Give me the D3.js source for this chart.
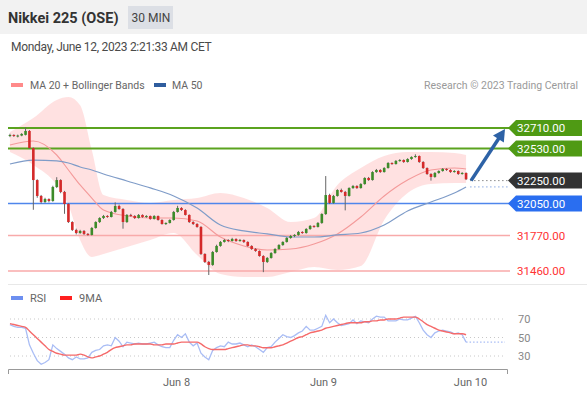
<!DOCTYPE html>
<html><head><meta charset="utf-8">
<script src="https://cdn.jsdelivr.net/npm/d3@7"></script>
<style>body{margin:0;background:#fff;} svg{display:block;font-family:Roboto,"Liberation Sans",Arial,sans-serif;}</style>
</head><body><svg id="c" width="587" height="397"></svg>
<script>
// ---------- DATA ----------
const title = "Nikkei 225 (OSE)";
const interval = "30 MIN";
const dateText = "Monday, June 12, 2023 2:21:33 AM CET";
const credit = "Research \u00a9 2023 Trading Central";

// [open, high, low, close] per 30-min candle
const candles = [
[32640,32660,32630,32649],[32649,32655,32632,32640],[32640,32652,32628,32644],[32644,32665,32638,32658],
[32650,32715,32645,32684],[32684,32692,32528,32535],[32535,32540,31995,32255],[32255,32262,32100,32116],
[32116,32125,32050,32063],[32063,32100,32055,32089],[32089,32095,32060,32072],[32072,32205,32065,32194],
[32194,32280,32185,32255],[32255,32262,32140,32151],[32151,32160,31960,32046],[32046,32052,31880,31888],
[31888,31895,31810,31819],[31819,31830,31780,31792],[31792,31820,31785,31810],[31810,31818,31775,31784],
[31784,31792,31768,31775],[31775,31845,31770,31836],[31836,31895,31830,31888],[31888,31930,31880,31923],
[31923,31950,31915,31941],[31941,31948,31925,31932],[31932,31985,31928,31976],[31976,32060,31970,32028],
[32028,32040,31995,32002],[32002,32010,31830,31888],[31888,31958,31880,31950],[31950,31960,31935,31941],
[31941,31948,31915,31923],[31923,31958,31918,31950],[31950,31955,31925,31932],[31932,31948,31925,31941],
[31941,31945,31908,31915],[31915,31948,31910,31941],[31941,31945,31900,31906],[31906,31912,31865,31871],
[31871,31885,31862,31880],[31880,31912,31875,31906],[31906,31985,31900,31976],[31976,32030,31970,32011],
[32011,32018,31985,31993],[31993,32000,31945,31950],[31950,31955,31880,31888],[31888,31895,31862,31871],
[31871,31878,31838,31845],[31845,31852,31600,31609],[31609,31615,31530,31539],[31539,31548,31425,31513],
[31513,31635,31505,31626],[31626,31690,31620,31679],[31679,31722,31672,31714],[31714,31740,31708,31731],
[31731,31738,31712,31722],[31722,31750,31718,31740],[31740,31746,31715,31722],[31722,31740,31716,31731],
[31731,31736,31705,31714],[31714,31720,31672,31679],[31679,31685,31645,31652],[31652,31660,31628,31635],
[31635,31640,31585,31591],[31591,31598,31450,31539],[31539,31582,31530,31574],[31574,31625,31568,31617],
[31617,31660,31610,31652],[31652,31695,31646,31687],[31687,31720,31680,31714],[31714,31756,31708,31749],
[31749,31775,31742,31766],[31766,31782,31756,31775],[31775,31810,31768,31801],[31801,31808,31785,31792],
[31792,31835,31786,31827],[31827,31862,31820,31854],[31854,31860,31838,31845],[31845,31888,31840,31880],
[31880,31965,31872,31958],[31958,32290,31950,32124],[32124,32135,32045,32055],[32055,32125,32048,32116],
[32116,32175,32110,32168],[32168,32180,32145,32151],[32151,32160,31990,32116],[32116,32192,32110,32185],
[32185,32212,32178,32203],[32203,32210,32178,32185],[32185,32228,32180,32220],[32220,32280,32214,32273],
[32273,32282,32248,32255],[32255,32332,32250,32325],[32325,32352,32318,32343],[32343,32350,32318,32325],
[32325,32368,32320,32360],[32360,32412,32355,32404],[32404,32410,32388,32395],[32395,32430,32390,32422],
[32422,32438,32415,32430],[32430,32436,32405,32413],[32413,32446,32408,32439],[32439,32462,32432,32457],
[32457,32480,32450,32465],[32465,32470,32405,32413],[32413,32420,32352,32360],[32360,32366,32300,32308],
[32308,32315,32250,32282],[32282,32325,32275,32317],[32317,32340,32310,32334],[32334,32360,32328,32352],
[32352,32358,32335,32343],[32343,32350,32318,32325],[32325,32342,32320,32334],[32334,32340,32300,32308],
[32308,32324,32302,32317],[32317,32322,32255,32262]
];

// moving averages / Bollinger bands read at these candle indexes
const bandIdx = [0,6,12,15,18,21,24,30,36,42,48,54,60,66,72,78,84,90,96,102,108,114,117];
const ma20    = [32561,32596,32474,32343,32212,32098,31993,31941,31923,31923,31897,31757,31679,31644,31652,31696,31784,31932,32116,32255,32343,32360,32352];
const ma50    = [32395,32430,32422,32404,32369,32343,32308,32247,32186,32116,32011,31862,31810,31784,31757,31757,31775,31792,31862,31985,32063,32142,32195];
const bbUpper = [32675,32797,32955,32981,32909,32518,32124,32081,32055,32081,32098,32142,32098,32011,31888,31923,32212,32360,32465,32500,32500,32492,32474];
const bbLower = [32500,32387,32212,32037,31731,31583,31609,31670,31731,31792,31600,31434,31408,31408,31451,31495,31469,31504,31906,32142,32221,32229,32229];

// RSI and its 9-period MA, one value per candle
const rsi = [64,62,61,61,60,42,33,25,21,23,26,42,38,35,32,28,26,29,27,27,28,34,36,37,41,42,41,50,46,40,
45,44,43,44,43,43,44,45,42,40,39,39,47,53,50,54,45,41,44,33,29,26,36,39,41,40,45,43,43,44,
42,40,42,40,37,34,39,40,45,49,53,51,50,52,55,57,62,58,58,60,62,74,66,70,66,63,64,65,69,65,
68,67,66,70,73,72,72,68,68,68,70,69,69,71,73,66,58,53,50,55,57,58,57,56,54,55,53,45];
const rsiMA = [65,64,63,62,61,57,53,49,45,41,37,35,33,32,31,31,31,31,32,31,29,28,29,30,32,34,37,39,40,41,
42,42,43,43,43,43,43,42,42,42,43,43,43,44,45,45,45,45,45,43,40,38,37,37,37,37,38,39,40,41,
42,42,41,41,40,39,39,39,40,41,42,44,46,48,50,51,53,55,56,57,58,60,61,62,63,64,65,66,66,66,
66,67,67,68,68,69,69,70,70,70,71,72,72,72,72,70,67,64,62,60,58,57,56,55,54,54,54,53];

const levels     = [32710, 32530, 32050, 31770, 31460];
const levelKinds = ["resistance","resistance","pivot","support","support"];
const lastPrice  = 32250;
const targetPrice = 32710;
const rsiTicks   = [70, 50, 30];
const dayTickPos = [42.6, 80.3, 118];   // candle-index position of day starts
const dayLabels  = ["Jun 8", "Jun 9", "Jun 10"];

// ---------- DRAW ----------
const svg = d3.select("#c");
const x = d3.scaleLinear().domain([-0.5, 127.5]).range([8, 507]);
const y = d3.scaleLinear().domain([31460, 32710]).range([271, 128]);
const yr = d3.scaleLinear().domain([30, 70]).range([356, 319]);

// header
svg.append("rect").attr("x",0).attr("y",0).attr("width",587).attr("height",34).attr("fill","#f2f2f2");
svg.append("text").attr("x",8).attr("y",23).attr("font-size",14.5).attr("font-weight","bold").attr("fill","#333").text(title);
svg.append("rect").attr("x",128).attr("y",6).attr("width",45).attr("height",23).attr("fill","#dcdfe5");
svg.append("text").attr("x",151).attr("y",22).attr("text-anchor","middle").attr("font-size",12).attr("fill","#444").text(interval);
svg.append("text").attr("x",11).attr("y",51).attr("font-size",12).attr("letter-spacing",-0.3).attr("fill","#4a4a4a").text(dateText);

// legend
svg.append("rect").attr("x",11).attr("y",83).attr("width",12).attr("height",4).attr("fill","#ff8a8a");
svg.append("text").attr("x",30).attr("y",89).attr("font-size",10.5).attr("fill","#666").text("MA 20 + Bollinger Bands");
svg.append("rect").attr("x",154).attr("y",83).attr("width",12).attr("height",4).attr("fill","#2f5d9e");
svg.append("text").attr("x",172).attr("y",89).attr("font-size",10.5).attr("fill","#666").text("MA 50");
svg.append("text").attr("x",578).attr("y",89).attr("text-anchor","end").attr("font-size",10.5).attr("fill","#9a9a9a").text(credit);

// Bollinger band
const bandData = bandIdx.map((d,i)=>({i:d, u:bbUpper[i], l:bbLower[i], m20:ma20[i], m50:ma50[i]}));
svg.append("path").datum(bandData)
  .attr("d", d3.area().x(d=>x(d.i)).y0(d=>y(d.l)).y1(d=>y(d.u)).curve(d3.curveMonotoneX))
  .attr("fill","#ffdcdc").attr("opacity",0.85);

// level lines
const levelColor = {resistance:"#5ba31f", pivot:"#4f86ec", support:"#f8aaaa"};
const levelWidth = {resistance:2, pivot:1.5, support:1.5};
levels.forEach((v,i)=>{
  const k = levelKinds[i];
  svg.append("line").attr("x1",8).attr("x2",510).attr("y1",y(v)).attr("y2",y(v))
    .attr("stroke",levelColor[k]).attr("stroke-width",levelWidth[k]);
});

// MAs
svg.append("path").datum(bandData)
  .attr("d", d3.line().x(d=>x(d.i)).y(d=>y(d.m20)).curve(d3.curveMonotoneX))
  .attr("fill","none").attr("stroke","#f49a9a").attr("stroke-width",1.1);
svg.append("path").datum(bandData)
  .attr("d", d3.line().x(d=>x(d.i)).y(d=>y(d.m50)).curve(d3.curveMonotoneX))
  .attr("fill","none").attr("stroke","#7f9cc8").attr("stroke-width",1.2);

// candles
const cg = svg.append("g");
candles.forEach((c,i)=>{
  const [o,h,l,cl] = c;
  const up = cl >= o;
  const col = up ? "#3d8b2a" : "#d42a2a";
  cg.append("line").attr("x1",x(i)).attr("x2",x(i)).attr("y1",y(h)).attr("y2",y(l))
    .attr("stroke","#666").attr("stroke-width",1);
  const top = y(Math.max(o,cl)), bot = y(Math.min(o,cl));
  cg.append("rect").attr("x",x(i)-1.3).attr("width",2.6)
    .attr("y",top).attr("height",Math.max(1,bot-top)).attr("fill",col);
});

// dotted current price & MA50 extension
const lastI = candles.length - 1;
svg.append("line").attr("x1",x(lastI)+4).attr("x2",510).attr("y1",y(lastPrice)).attr("y2",y(lastPrice))
  .attr("stroke","#888").attr("stroke-width",1).attr("stroke-dasharray","1.5,2.5");
svg.append("line").attr("x1",x(lastI)+4).attr("x2",510).attr("y1",y(ma50[ma50.length-1])).attr("y2",y(ma50[ma50.length-1]))
  .attr("stroke","#8aa8e0").attr("stroke-width",1).attr("stroke-dasharray","1.5,2.5");

// target arrow
const ax0 = x(lastI)+5, ay0 = y(lastPrice), ax1 = 505, ay1 = y(targetPrice)+1;
const ang = Math.atan2(ay1-ay0, ax1-ax0);
const shaft = 9;
svg.append("line").attr("x1",ax0).attr("y1",ay0)
  .attr("x2",ax1 - shaft*Math.cos(ang)).attr("y2",ay1 - shaft*Math.sin(ang))
  .attr("stroke","#2d62a6").attr("stroke-width",3.5);
const hw = 6.5;
const bx = ax1 - 12*Math.cos(ang), by = ay1 - 12*Math.sin(ang);
svg.append("polygon").attr("points",[
  [ax1,ay1],[bx + hw*Math.sin(ang), by - hw*Math.cos(ang)],[bx - hw*Math.sin(ang), by + hw*Math.cos(ang)]
].map(p=>p.join(",")).join(" ")).attr("fill","#2d62a6");

// right labels
const boxColor = {resistance:"#4f9a14", pivot:"#2a6ef0", current:"#333333"};
function tagLabel(v, kind){
  const yy = y(v);
  const pts = [[508,yy],[516,yy-8],[582,yy-8],[582,yy+8],[516,yy+8]];
  svg.append("polygon").attr("points", pts.map(p=>p.join(",")).join(" ")).attr("fill", boxColor[kind]);
  svg.append("text").attr("x",517).attr("y",yy+4).attr("font-size",11.5).attr("fill","#fff").text(d3.format(".2f")(v));
}
levels.forEach((v,i)=>{
  const k = levelKinds[i];
  if (k === "support") {
    svg.append("text").attr("x",517).attr("y",y(v)+4).attr("font-size",11.5).attr("fill","#ff3333").text(d3.format(".2f")(v));
  } else tagLabel(v,k);
});
tagLabel(lastPrice, "current");

// separator
svg.append("line").attr("x1",8).attr("x2",587).attr("y1",284.5).attr("y2",284.5).attr("stroke","#e8e8e8");

// RSI legend
svg.append("rect").attr("x",11).attr("y",296).attr("width",12).attr("height",4).attr("fill","#6d8ff0");
svg.append("text").attr("x",30).attr("y",302).attr("font-size",11).attr("fill","#666").text("RSI");
svg.append("rect").attr("x",60).attr("y",296).attr("width",12).attr("height",4).attr("fill","#ff2020");
svg.append("text").attr("x",79).attr("y",302).attr("font-size",11).attr("fill","#666").text("9MA");

// RSI grid
rsiTicks.forEach(t=>{
  svg.append("line").attr("x1",10).attr("x2",505).attr("y1",yr(t)).attr("y2",yr(t))
    .attr("stroke","#c8c8c8").attr("stroke-dasharray","1,3");
  svg.append("text").attr("x",518).attr("y",yr(t)+4).attr("font-size",11).attr("fill","#888").text(t);
});

// RSI lines
svg.append("path").datum(rsi)
  .attr("d", d3.line().x((d,i)=>x(i)).y(d=>yr(d)))
  .attr("fill","none").attr("stroke","#a9bdf5").attr("stroke-width",1.3);
svg.append("line").attr("x1",x(lastI)).attr("x2",505).attr("y1",yr(rsi[lastI])).attr("y2",yr(rsi[lastI]))
  .attr("stroke","#a9bdf5").attr("stroke-width",1.3).attr("stroke-dasharray","1.5,2");
svg.append("path").datum(rsiMA)
  .attr("d", d3.line().x((d,i)=>x(i)).y(d=>yr(d)).curve(d3.curveMonotoneX))
  .attr("fill","none").attr("stroke","#f56a6a").attr("stroke-width",1.4);

// x axis
const axis = d3.axisBottom(x).tickValues(dayTickPos).tickFormat((d,i)=>dayLabels[i])
  .tickSizeInner(0).tickSizeOuter(5).tickPadding(9);
const ag = svg.append("g").attr("transform","translate(0,369)").call(axis);
ag.select(".domain").attr("stroke","#999");
ag.selectAll("text").attr("font-size",11).attr("fill","#666").attr("font-family","Roboto,'Liberation Sans',Arial,sans-serif");
</script>
</body></html>
